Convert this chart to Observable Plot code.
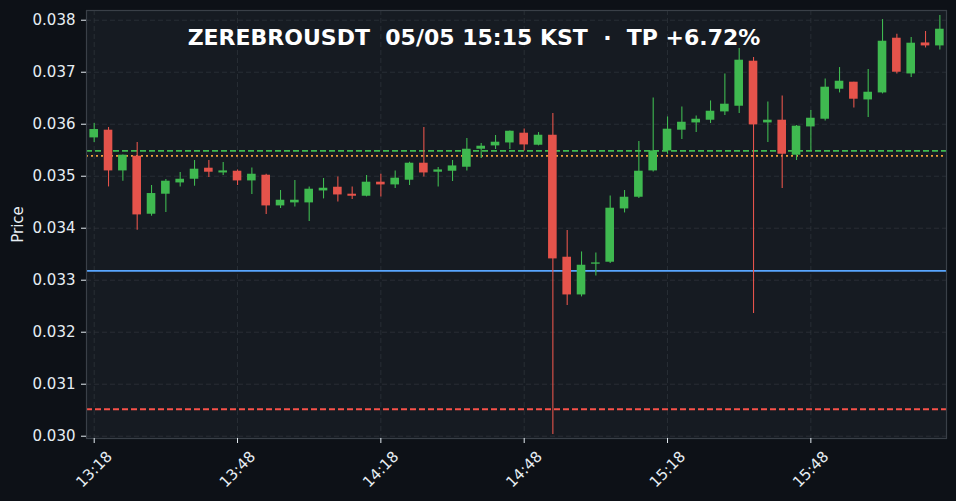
<!DOCTYPE html>
<html>
<head>
<meta charset="utf-8">
<script src="https://cdn.jsdelivr.net/npm/d3@7"></script>
<script src="https://cdn.jsdelivr.net/npm/@observablehq/plot@0.6"></script>
<style>
  html, body { margin: 0; padding: 0; background: #0d1117; }
  #wrap { position: relative; width: 956px; height: 501px; }
  #title { position: absolute; left: 0; top: 25px; width: 948px; text-align: center;
    font-family: "DejaVu Sans", sans-serif; font-weight: bold; font-size: 22px;
    color: #ffffff; white-space: pre; pointer-events: none; }
</style>
</head>
<body>
<div id="wrap"><div id="title">ZEREBROUSDT  05/05 15:15 KST  ·  TP +6.72%</div></div>
<script>
const times = ["13:18","13:21","13:24","13:27","13:30","13:33","13:36","13:39","13:42","13:45",
  "13:48","13:51","13:54","13:57","14:00","14:03","14:06","14:09","14:12","14:15",
  "14:18","14:21","14:24","14:27","14:30","14:33","14:36","14:39","14:42","14:45",
  "14:48","14:51","14:54","14:57","15:00","15:03","15:06","15:09","15:12","15:15",
  "15:18","15:21","15:24","15:27","15:30","15:33","15:36","15:39","15:42","15:45",
  "15:48","15:51","15:54","15:57","16:00","16:03","16:06","16:09","16:12","16:15"];
const opens = [0.035737,0.035885,0.035102,0.035385,0.034269,0.034654,0.034871,0.034942,0.035154,0.035063,
  0.035096,0.034910,0.035019,0.034429,0.034487,0.034487,0.034717,0.034788,0.034654,0.034615,
  0.034885,0.034833,0.034923,0.035250,0.035077,0.035096,0.035173,0.035519,0.035583,0.035640,
  0.035827,0.035596,0.035788,0.033442,0.032717,0.033308,0.033346,0.034371,0.034596,0.035102,
  0.035487,0.035885,0.036025,0.036077,0.036237,0.036346,0.037212,0.036025,0.036077,0.035404,
  0.035948,0.036096,0.036673,0.036808,0.036467,0.036602,0.037654,0.036967,0.037563,0.037506];
const highs = [0.036014,0.035937,0.035410,0.035648,0.034821,0.034937,0.035071,0.035302,0.035302,0.035264,
  0.035121,0.035160,0.035038,0.034725,0.034917,0.034794,0.034956,0.034987,0.034794,0.035014,
  0.035038,0.035102,0.035269,0.035937,0.035167,0.035302,0.035725,0.035629,0.035783,0.035870,
  0.035910,0.035840,0.036206,0.033956,0.033544,0.033525,0.034621,0.034725,0.035667,0.036506,
  0.036140,0.036333,0.036160,0.036448,0.036967,0.037456,0.037283,0.036429,0.036544,0.035975,
  0.036264,0.036871,0.037090,0.036808,0.037052,0.038013,0.037731,0.037667,0.037783,0.038090];
const lows = [0.035648,0.034794,0.034904,0.033962,0.034231,0.034302,0.034794,0.034808,0.034975,0.035014,
  0.034821,0.034648,0.034263,0.034379,0.034410,0.034129,0.034564,0.034506,0.034552,0.034602,
  0.034602,0.034763,0.034821,0.034987,0.034794,0.034898,0.035102,0.035340,0.035514,0.035514,
  0.035487,0.035583,0.030033,0.032513,0.032679,0.033083,0.033321,0.034294,0.034571,0.035083,
  0.035423,0.035706,0.035840,0.036014,0.036167,0.036206,0.032360,0.035648,0.034763,0.035302,
  0.035487,0.036064,0.036602,0.036313,0.036129,0.036583,0.036967,0.036898,0.037467,0.037429];
const closes = [0.035898,0.035102,0.035404,0.034256,0.034667,0.034904,0.034942,0.035135,0.035077,0.035102,
  0.034910,0.035038,0.034429,0.034538,0.034538,0.034750,0.034769,0.034640,0.034615,0.034885,
  0.034833,0.034962,0.035250,0.035063,0.035121,0.035198,0.035519,0.035577,0.035654,0.035865,
  0.035602,0.035788,0.033410,0.032717,0.033288,0.033333,0.034385,0.034596,0.035096,0.035487,
  0.035904,0.036038,0.036096,0.036250,0.036385,0.037231,0.035987,0.036077,0.035423,0.035962,
  0.036115,0.036712,0.036827,0.036481,0.036615,0.037596,0.037000,0.037558,0.037506,0.037827];
const xTickLabels = ["13:18","13:48","14:18","14:48","15:18","15:48"];
const yTicks = [0.030,0.031,0.032,0.033,0.034,0.035,0.036,0.037,0.038];
const levelValues = [0.035487, 0.035390, 0.033179, 0.030519];
const levelColors = ["#3fb950", "#f0a03a", "#58a6ff", "#f85149"];
const levelDash = ["6,3", "2,3", null, "6,3"];

const toDate = s => { const [h, m] = s.split(":").map(Number); return new Date(Date.UTC(2025, 4, 5, h, m)); };
const MIN = 60000;
const candles = times.map((t, i) => ({
  t: toDate(t), open: opens[i], high: highs[i], low: lows[i], close: closes[i],
  up: closes[i] >= opens[i]
}));
const xTicks = xTickLabels.map(toDate);
const levels = levelValues.map((v, i) => ({v, color: levelColors[i], dash: levelDash[i]}));
const GREEN = "#3fb950", RED = "#e5534b";
const fmt = d3.utcFormat("%H:%M");
const x0 = new Date(toDate("13:18").getTime() - 1.61 * MIN);
const x1 = new Date(x0.getTime() + 180 * MIN);

const chart = Plot.plot({
  width: 956, height: 501,
  marginLeft: 86, marginRight: 10, marginTop: 10, marginBottom: 63,
  style: {background: "#0d1117", color: "#e6edf3", fontFamily: "DejaVu Sans, sans-serif"},
  x: {type: "utc", domain: [x0, x1]},
  y: {domain: [0.029956, 0.038187]},
  marks: [
    Plot.frame({fill: "#161b22", stroke: null}),
    Plot.gridY(yTicks, {stroke: "#30363d", strokeOpacity: 0.7, strokeDasharray: "5,3"}),
    Plot.gridX(xTicks, {stroke: "#30363d", strokeOpacity: 0.7, strokeDasharray: "5,3"}),
    ...levels.map(l => Plot.ruleY([l.v], {stroke: l.color, strokeWidth: l.dash === "2,3" ? 1.8 : 1.9, strokeDasharray: l.dash})),
    Plot.ruleX(candles, {x: "t", y1: "low", y2: "high", stroke: d => d.up ? GREEN : RED, strokeWidth: 1.1}),
    Plot.rect(candles, {
      x1: d => new Date(d.t.getTime() - 0.9 * MIN), x2: d => new Date(d.t.getTime() + 0.9 * MIN),
      y1: "open", y2: "close", fill: d => d.up ? GREEN : RED
    }),
    Plot.frame({stroke: "#3a4048", strokeWidth: 1.2}),
    Plot.axisY(yTicks, {tickFormat: d3.format(".3f"), fontSize: 15, tickSize: 5, tickPadding: 6,
      stroke: "#e6edf3", label: null}),
    Plot.text(["Price"], {frameAnchor: "left", dx: -68, rotate: -90, fontSize: 15, fill: "#e6edf3",
      textAnchor: "middle", lineAnchor: "middle"}),
    Plot.axisX(xTicks, {tickFormat: () => "", tickSize: 5, stroke: "#e6edf3", label: null}),
    Plot.text(xTicks, {x: d => d, frameAnchor: "bottom", dy: 31, rotate: -45, text: d => fmt(d),
      textAnchor: "middle", lineAnchor: "middle", fontSize: 15, fill: "#e6edf3"})
  ]
});
document.getElementById("wrap").prepend(chart);
</script>
</body>
</html>
